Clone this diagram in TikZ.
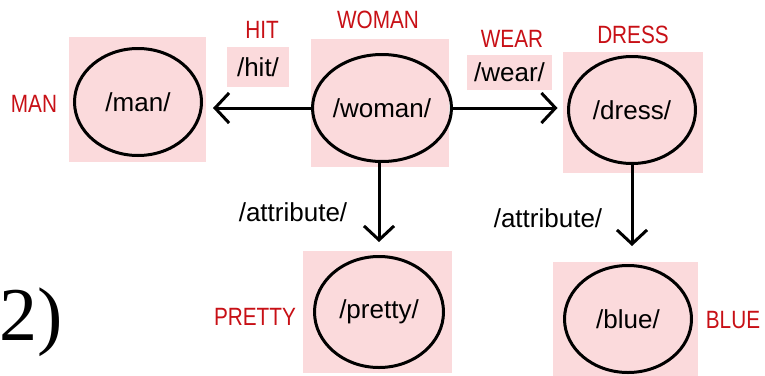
\documentclass[tikz,border=0pt]{standalone}
\usepackage{fontspec}
\setmainfont{Liberation Sans}
\newfontfamily\redfont[FakeStretch=0.83]{Liberation Sans}
\newfontfamily\numfont{Liberation Serif}
\usetikzlibrary{shapes.geometric,arrows.meta}
\definecolor{pinkbg}{RGB}{251,218,220}
\definecolor{lblred}{RGB}{200,16,22}
\begin{document}
\begin{tikzpicture}[x=1pt,y=-1pt,
  pinkbox/.style={rectangle, fill=pinkbg, draw=none, inner sep=0pt, font=\fontsize{26}{30}\selectfont},
  circ/.style={ellipse, draw, line width=3pt, minimum width=127pt, minimum height=107pt, inner sep=0pt, font=\fontsize{26}{30}\selectfont},
  redlbl/.style={text=lblred, font=\redfont\fontsize{25}{30}\selectfont, inner sep=0pt},
  blk/.style={font=\fontsize{26}{30}\selectfont, inner sep=0pt},
  arr/.style={line width=3pt, -{Straight Barb[length=14pt,width=30pt]}}]
\useasboundingbox (0,0) rectangle (765,375);
\fill[white] (0,0) rectangle (765,375);
% pink backgrounds
\node[pinkbox, minimum width=137pt, minimum height=125pt] (manbg) at (137.5,99.5) {};
\node[pinkbox, minimum width=138pt, minimum height=128pt] (womanbg) at (380,103) {};
\node[pinkbox, minimum width=140pt, minimum height=121pt] (dressbg) at (633,112.5) {};
\node[pinkbox, minimum width=149pt, minimum height=122pt] (prettybg) at (377.5,312) {};
\node[pinkbox, minimum width=145pt, minimum height=116pt] (bluebg) at (625.5,320) {};
% ellipses
\node[circ] (man) at (138,102) {/man/};
\node[circ] (woman) at (382,108) {/woman/};
\node[circ] (dress) at (632,110) {/dress/};
\node[circ, minimum width=129pt, minimum height=111pt] (pretty) at (379,312) {/pretty/};
\node[circ] (blue) at (628,319) {/blue/};
% relation labels
\node[pinkbox, minimum width=62pt, minimum height=40pt] (hit) at (258,67) {/hit/};
\node[pinkbox, minimum width=85pt, minimum height=35pt] (wear) at (509.5,72.5) {/wear/};
\node[blk] (attr1) at (293,212) {/attribute/};
\node[blk] (attr2) at (548,218) {/attribute/};
% red labels
\node[redlbl] (lman) at (34,104) {MAN};
\node[redlbl] (lhit) at (262,30) {HIT};
\node[redlbl] (lwoman) at (378,20) {WOMAN};
\node[redlbl] (lwear) at (512,39) {WEAR};
\node[redlbl] (ldress) at (633,35) {DRESS};
\node[redlbl] (lpretty) at (255,317) {PRETTY};
\node[redlbl] (lblue) at (733,320) {BLUE};
% number
\node[font=\numfont\fontsize{76}{86}\selectfont, anchor=base west, inner sep=0pt] (num) at (-1,340) {2)};
% arrows
\draw[arr, shorten >=10pt] (woman.west) -- (woman.west -| man.east);
\draw[arr, shorten >=9.5pt] (woman.east) -- (woman.east -| dress.west);
\draw[arr, shorten >=13pt] (pretty.north |- woman.south) -- (pretty.north);
\draw[arr, shorten >=18pt] (dress.south) -- (dress.south |- blue.north);
\end{tikzpicture}
\end{document}
